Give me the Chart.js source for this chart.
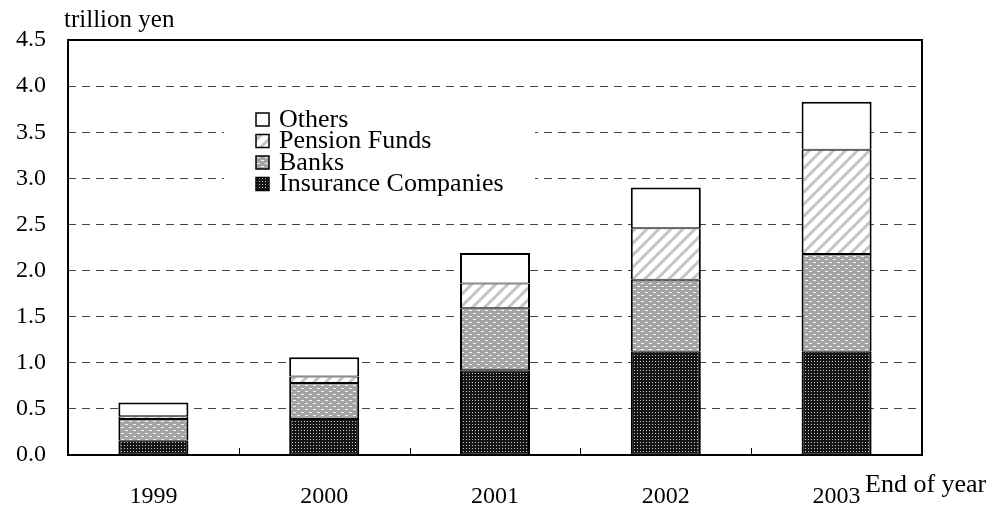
<!DOCTYPE html>
<html>
<head>
<meta charset="utf-8">
<script src="https://cdn.jsdelivr.net/npm/chart.js@4.4.1/dist/chart.umd.min.js"></script>
<style>
  html, body { margin: 0; padding: 0; background: #fff; }
  #wrap { width: 993px; height: 522px; }
</style>
</head>
<body>
<div id="wrap"><canvas id="chart"></canvas></div>
<script>
// data (trillion yen, end of year)
const years = ['1999', '2000', '2001', '2002', '2003'];
const insurance = [0.155, 0.39, 0.92, 1.12, 1.12];
const banks = [0.235, 0.39, 0.67, 0.78, 1.06];
const pension = [0.03, 0.07, 0.27, 0.56, 1.13];
const others = [0.15, 0.21, 0.33, 0.44, 0.52];
const yMax = 4.5;
const yStep = 0.5;

const FONT = 'Liberation Serif, Times New Roman, serif';

const canvas = document.getElementById('chart');
const ctx = canvas.getContext('2d');

const makePattern = (w, h, draw) => {
    const c = document.createElement('canvas');
    c.width = w;
    c.height = h;
    draw(c.getContext('2d'), w, h);
    return ctx.createPattern(c, 'repeat');
};

// dark dotted fill
const insurancePat = makePattern(3, 3, (g, w, h) => {
    g.fillStyle = '#151515';
    g.fillRect(0, 0, w, h);
    g.fillStyle = '#c8c8c8';
    g.fillRect(1, 1, 1, 1);
});

// grey with small white dashes
const banksPat = makePattern(8, 6, (g, w, h) => {
    g.fillStyle = '#a4a4a4';
    g.fillRect(0, 0, w, h);
    g.fillStyle = '#f4f4f4';
    g.fillRect(1, 1, 3, 1);
    g.fillRect(5, 4, 3, 1);
});

// light diagonal stripes
const pensionPat = makePattern(12, 12, (g, w, h) => {
    g.fillStyle = '#fff';
    g.fillRect(0, 0, w, h);
    g.strokeStyle = '#c4c4c4';
    g.lineWidth = 3;
    g.beginPath();
    g.moveTo(-6, 6); g.lineTo(6, -6);
    g.moveTo(0, 12); g.lineTo(12, 0);
    g.moveTo(6, 18); g.lineTo(18, 6);
    g.stroke();
});

const legendItems = [
    { label: 'Others', fill: '#fff' },
    { label: 'Pension Funds', fill: pensionPat },
    { label: 'Banks', fill: banksPat },
    { label: 'Insurance Companies', fill: insurancePat }
];

const decor = {
    id: 'decor',
    beforeDatasetsDraw(chart) {
        // legend sits on a white box that hides the grid lines behind it
        const { ctx, chartArea: a } = chart;
        ctx.save();
        ctx.fillStyle = '#fff';
        ctx.fillRect(a.left + 156, a.top + 56, 311, 112);
        ctx.restore();
    },
    afterDraw(chart) {
        const { ctx, chartArea: a, scales: { x } } = chart;
        ctx.save();

        // frame
        ctx.strokeStyle = '#000';
        ctx.lineWidth = 2;
        ctx.strokeRect(a.left, a.top, a.right - a.left, a.bottom - a.top);

        // small inward ticks between categories
        ctx.lineWidth = 1;
        ctx.beginPath();
        for (let i = 0; i < years.length - 1; i++) {
            const px = Math.round((x.getPixelForValue(i) + x.getPixelForValue(i + 1)) / 2) + 0.5;
            ctx.moveTo(px, a.bottom);
            ctx.lineTo(px, a.bottom - 7);
        }
        ctx.stroke();

        // legend
        ctx.font = '26px ' + FONT;
        ctx.textBaseline = 'middle';
        ctx.textAlign = 'left';
        legendItems.forEach((item, i) => {
            const cy = a.top + 79 + i * 21.5;
            const bx = a.left + 188;
            ctx.fillStyle = item.fill;
            ctx.fillRect(bx, cy - 6, 13, 13);
            ctx.strokeStyle = '#000';
            ctx.lineWidth = 1.5;
            ctx.strokeRect(bx, cy - 6, 13, 13);
            ctx.fillStyle = '#000';
            ctx.fillText(item.label, a.left + 211, cy + 1);
        });

        // axis captions
        ctx.font = '25px ' + FONT;
        ctx.fillText('trillion yen', a.left - 4, 20);
        ctx.font = '26px ' + FONT;
        ctx.fillText('End of year', a.right - 57, 485);
        ctx.restore();
    }
};

// 1px top/bottom so stacked segments share a 2px separator
const common = {
    borderColor: '#000',
    borderWidth: { top: 1, bottom: 1, left: 2, right: 2 },
    borderSkipped: false
};

new Chart(ctx, {
    type: 'bar',
    data: {
        labels: years,
        datasets: [
            { label: 'Insurance Companies', data: insurance, backgroundColor: insurancePat, ...common },
            { label: 'Banks', data: banks, backgroundColor: banksPat, ...common },
            { label: 'Pension Funds', data: pension, backgroundColor: pensionPat, ...common },
            {
                label: 'Others', data: others, backgroundColor: '#fff', ...common,
                borderWidth: { top: 2, bottom: 1, left: 2, right: 2 }
            }
        ]
    },
    options: {
        responsive: true,
        maintainAspectRatio: false,
        animation: false,
        datasets: { bar: { barPercentage: 0.41, categoryPercentage: 1 } },
        layout: { padding: { top: 40, right: 71, left: 0, bottom: 0 } },
        plugins: { legend: { display: false }, tooltip: { enabled: false } },
        scales: {
            x: {
                stacked: true,
                grid: { display: false },
                border: { display: false },
                ticks: { color: '#000', font: { family: FONT, size: 24 }, padding: 19 },
                afterFit: scale => { scale.height = 67; }
            },
            y: {
                stacked: true,
                min: 0,
                max: yMax,
                grid: { color: '#444', lineWidth: 1, drawTicks: false },
                border: { display: false, dash: [8, 6] },
                ticks: {
                    stepSize: yStep,
                    color: '#000',
                    font: { family: FONT, size: 24 },
                    padding: 22,
                    callback: v => v.toFixed(1)
                },
                afterFit: scale => { scale.width = 68; }
            }
        }
    },
    plugins: [decor]
});
</script>
</body>
</html>
